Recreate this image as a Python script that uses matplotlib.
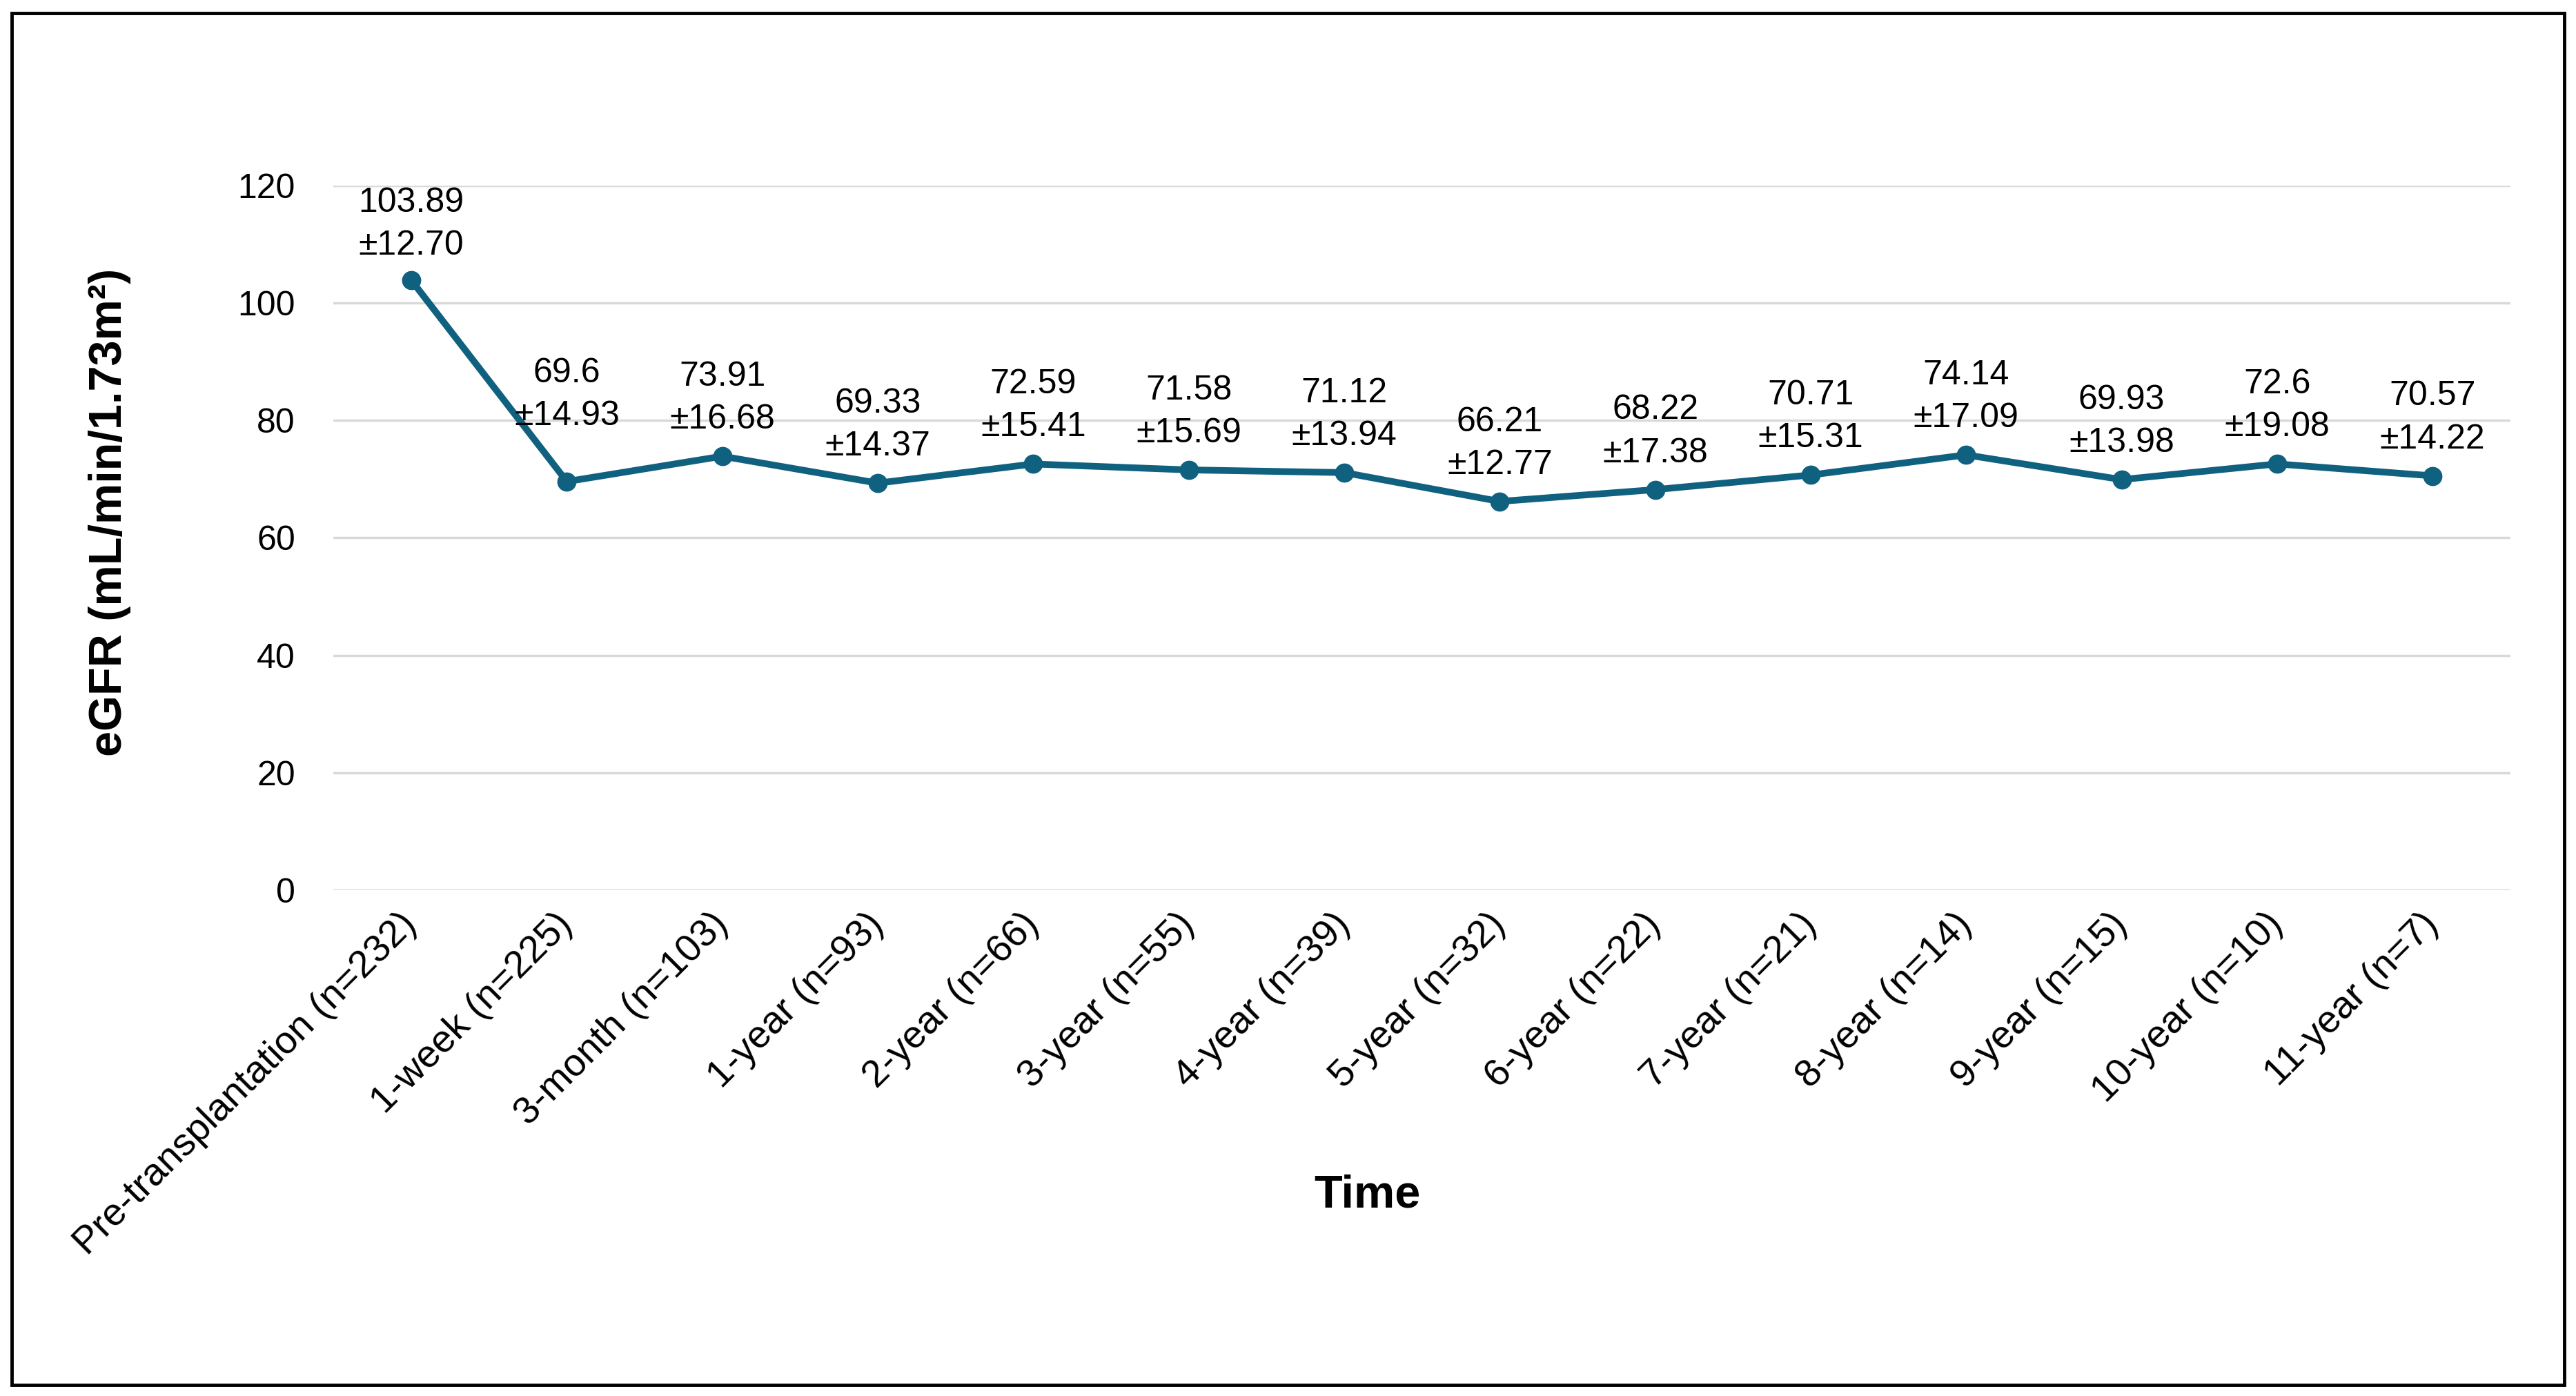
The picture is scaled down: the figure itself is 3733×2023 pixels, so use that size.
import matplotlib
matplotlib.use("Agg")
import matplotlib.pyplot as plt
from matplotlib.patches import Rectangle

plt.rcParams['font.family'] = ['Liberation Sans', 'DejaVu Sans']

# Timepoints and eGFR means / SDs
categories = ["Pre-transplantation (n=232)", "1-week (n=225)", "3-month (n=103)",
              "1-year (n=93)", "2-year (n=66)", "3-year (n=55)", "4-year (n=39)",
              "5-year (n=32)", "6-year (n=22)", "7-year (n=21)", "8-year (n=14)",
              "9-year (n=15)", "10-year (n=10)", "11-year (n=7)"]
means = [103.89, 69.6, 73.91, 69.33, 72.59, 71.58, 71.12, 66.21, 68.22, 70.71,
         74.14, 69.93, 72.6, 70.57]
sds = ["12.70", "14.93", "16.68", "14.37", "15.41", "15.69", "13.94", "12.77",
       "17.38", "15.31", "17.09", "13.98", "19.08", "14.22"]
yticks = [0, 20, 40, 60, 80, 100, 120]

line_color = "#10617f"

fig = plt.figure(figsize=(37.33, 20.23), dpi=100)
ax = fig.add_axes([0.1295, 0.3624, 0.845, 0.5046])

x = list(range(len(categories)))
ax.plot(x, means, color=line_color, linewidth=7, marker="o", markersize=19, zorder=3)

# label offsets (pixels above point); the first two were moved by hand in the original
label_offset = {0: 81, 1: 126}
for i, (m, s) in enumerate(zip(means, sds)):
    ax.annotate(f"{m:g}\n\u00b1{s}", (i, m), xytext=(0, label_offset.get(i, 84)),
                textcoords="offset pixels", ha="center", va="center",
                fontsize=36, linespacing=1.45, zorder=4)

ax.set_xlim(-0.5, len(categories) - 0.5)
ax.set_ylim(0, 120)
ax.set_yticks(yticks)
ax.grid(axis="y", color="#d9d9d9", linewidth=2.5)
ax.set_axisbelow(True)
for sp in ax.spines.values():
    sp.set_visible(False)

ax.set_xticks(x)
ax.set_xticklabels(categories, rotation=45, ha="right", va="center",
                   rotation_mode="anchor", fontsize=40)
ax.tick_params(axis="x", length=0, pad=30)
ax.tick_params(axis="y", length=0, pad=40, labelsize=36)

ax.set_ylabel("eGFR (mL/min/1.73m\u00b2)", fontsize=48, fontweight="bold", va="center")
ax.yaxis.set_label_coords(-0.103, 0.536)
ax.set_xlabel("Time", fontsize=48, fontweight="bold", va="center")
ax.xaxis.set_label_coords(0.475, -0.434)

# outer frame
fig.patches.append(Rectangle((0.00455, 0.0079), 0.9909, 0.9827, transform=fig.transFigure,
                             fill=False, edgecolor="black", linewidth=3.5))

fig.savefig("out.png", dpi=100, facecolor="white")
